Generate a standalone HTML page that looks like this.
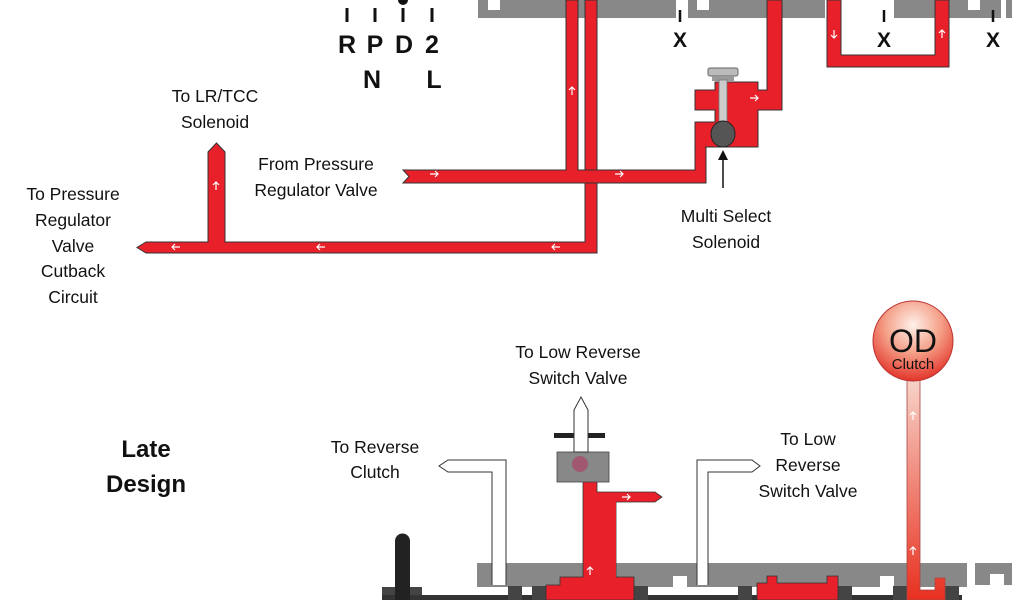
<!DOCTYPE html>
<html><head><meta charset="utf-8"><style>
html,body{margin:0;padding:0;background:#fff;}
svg{display:block}
text{font-family:"Liberation Sans",Arial,sans-serif;fill:#111;}
</style></head><body>
<svg width="1024" height="600" viewBox="0 0 1024 600" xmlns="http://www.w3.org/2000/svg">
<defs>
<radialGradient id="od" cx="50%" cy="30%" r="70%">
<stop offset="0" stop-color="#fdf0ea"/><stop offset="0.5" stop-color="#f5a088"/><stop offset="1" stop-color="#e2352a"/>
</radialGradient>
<linearGradient id="odp" x1="0" y1="0" x2="0" y2="1"><stop offset="0" stop-color="#f7d3c8"/><stop offset="1" stop-color="#e8301f"/></linearGradient>
</defs>
<!-- top gray bars -->
<rect x="478" y="0" width="198" height="18" fill="#888"/>
<rect x="688" y="0" width="137" height="18" fill="#888"/>
<rect x="894" y="0" width="107" height="18" fill="#888"/>
<rect x="488" y="0" width="12" height="10" fill="#fff"/>
<rect x="697" y="0" width="12" height="10" fill="#fff"/>
<rect x="968" y="0" width="12" height="10" fill="#fff"/>
<rect x="1006" y="0" width="6" height="18" fill="#888"/>
<!-- U tube -->
<path d="M827 0 H841 V55 H935 V0 H949 V67 H827 Z" fill="#e8202a" stroke="#333" stroke-width="1"/>
<!-- X marks -->
<g stroke="#111" stroke-width="2.5"><line x1="680" y1="10" x2="680" y2="22"/><line x1="884" y1="10" x2="884" y2="22"/><line x1="993" y1="10" x2="993" y2="22"/></g>
<g font-size="21" font-weight="bold" text-anchor="middle">
<text x="680" y="47">X</text><text x="884" y="47">X</text><text x="993" y="47">X</text></g>
<!-- selector -->
<g stroke="#111" stroke-width="3"><line x1="347" y1="8" x2="347" y2="22"/><line x1="375" y1="8" x2="375" y2="22"/><line x1="403" y1="8" x2="403" y2="22"/><line x1="432" y1="8" x2="432" y2="22"/></g>
<circle cx="403" cy="0" r="5" fill="#111"/>
<g font-size="25" font-weight="bold" text-anchor="middle">
<text x="347" y="53">R</text><text x="375" y="53">P</text><text x="404" y="53">D</text><text x="432" y="53">2</text>
<text x="372" y="88">N</text><text x="434" y="88">L</text></g>
<!-- red lines top -->
<g fill="#e8202a" stroke="#333" stroke-width="1">
<path d="M585 0 H597 V253 H146 L137 247.5 L146 242 H208 V152 L216.5 143 L225 152 V242 H585 Z"/>
<path d="M566 0 H578 V170 H695 V147 H706 V183 H403 L409 176.5 L403 170 H566 Z"/>
<path d="M767 0 H782 V110 H758 V122 H758 V147 H695 V122 H715 V110 H695 V90 H715 V82 H758 V90 H767 Z"/>
</g>
<rect x="696" y="146" width="9" height="3" fill="#e8202a"/>
<!-- solenoid -->
<rect x="708" y="68" width="30" height="8" rx="2" fill="#bbb" stroke="#666"/>
<rect x="712" y="76" width="22" height="5" fill="#999"/>
<rect x="719" y="80" width="8" height="45" fill="#ccc" stroke="#777" stroke-width="0.8"/>
<ellipse cx="723" cy="134" rx="12" ry="13" fill="#555" stroke="#222"/>
<line x1="723" y1="188" x2="723" y2="152" stroke="#111" stroke-width="1.5"/>
<path d="M718 160 L723 150 L728 160 Z" fill="#111"/>
<!-- small arrows -->
<g fill="none" stroke="#fff" stroke-width="1.2">
<path d="M430 174 h8 m-3 -3 l3 3 l-3 3"/><path d="M615 174 h8 m-3 -3 l3 3 l-3 3"/>
<path d="M750 98 h8 m-3 -3 l3 3 l-3 3"/>
<path d="M325 247 h-8 m3 -3 l-3 3 l3 3"/><path d="M560 247 h-8 m3 -3 l-3 3 l3 3"/><path d="M180 247 h-8 m3 -3 l-3 3 l3 3"/>
<path d="M216 190 v-8 m-3 3 l3 -3 l3 3"/><path d="M572 95 v-8 m-3 3 l3 -3 l3 3"/>
<path d="M834 30 v8 m-3 -3 l3 3 l3 -3"/><path d="M942 38 v-8 m-3 3 l3 -3 l3 3"/>
</g>
<g font-size="17.5" text-anchor="middle">
<text x="215" y="102">To LR/TCC</text><text x="215" y="128">Solenoid</text>
<text x="316" y="170">From Pressure</text><text x="316" y="196">Regulator Valve</text>
<text x="73" y="200">To Pressure</text><text x="73" y="226">Regulator</text><text x="73" y="252">Valve</text><text x="73" y="277">Cutback</text><text x="73" y="303">Circuit</text>
<text x="726" y="222">Multi Select</text><text x="726" y="248">Solenoid</text>
<text x="578" y="358">To Low Reverse</text><text x="578" y="384">Switch Valve</text>
<text x="375" y="453">To Reverse</text><text x="375" y="478">Clutch</text>
<text x="808" y="445">To Low</text><text x="808" y="471">Reverse</text><text x="808" y="497">Switch Valve</text>
</g>
<text x="146" y="457" font-size="24" font-weight="bold" text-anchor="middle">Late</text>
<text x="146" y="492" font-size="24" font-weight="bold" text-anchor="middle">Design</text>
<!-- bottom section -->
<rect x="477" y="563" width="490" height="24" fill="#888"/>
<path d="M975 563 H1012 V585 H1004 V574 H990 V585 H975 Z" fill="#888"/>
<rect x="673" y="576" width="14" height="11" fill="#fff"/><rect x="880" y="576" width="14" height="11" fill="#fff"/>
<rect x="382" y="587" width="40" height="13" fill="#444"/>
<rect x="382" y="595" width="580" height="5" fill="#333"/>
<rect x="508" y="586" width="14" height="14" fill="#444"/><rect x="532" y="586" width="14" height="14" fill="#444"/>
<rect x="634" y="586" width="14" height="14" fill="#444"/><rect x="738" y="586" width="14" height="14" fill="#444"/>
<rect x="838" y="586" width="14" height="14" fill="#444"/><rect x="893" y="586" width="14" height="14" fill="#444"/>
<rect x="945" y="586" width="14" height="14" fill="#444"/>
<path d="M395 600 V541 a7.5 7.5 0 0 1 15 0 V600 Z" fill="#222"/>
<!-- white pipes -->
<path d="M506 585 V460 H448 L439 466 L448 472 H492 V585" fill="#fff" stroke="#333" stroke-width="1"/>
<path d="M697 585 V460 H752 L760 466 L752 472 H708 V585" fill="#fff" stroke="#333" stroke-width="1"/>
<!-- red center -->
<g fill="#e8202a" stroke="#333" stroke-width="0.8">
<path d="M546 600 V585 H560 V577 H583 V470 H597 V492 H655 L662 497 L655 502 H616 V577 H634 V600 Z"/>
<path d="M757 600 V583 H767 V576 H777 V583 H827 V576 H838 V600 Z"/>
</g>
<rect x="604" y="502" width="12" height="81" fill="#e8202a"/>
<rect x="557" y="452" width="52" height="30" fill="#888" stroke="#444" stroke-width="0.8"/>
<circle cx="580" cy="464" r="8" fill="#a46" opacity="0.7"/>
<rect x="554" y="433" width="51" height="5" fill="#222"/>
<path d="M574 452 V410 L581 397 L588 410 V452 Z" fill="#fff" stroke="#333" stroke-width="1"/>
<!-- OD -->
<path d="M907 380 V600 H945 V578 H935 V590 H920 V380 Z" fill="url(#odp)" stroke="#a44" stroke-width="0.8"/>
<circle cx="913" cy="341" r="40" fill="url(#od)" stroke="#b33" stroke-width="1"/>
<text x="913" y="352" font-size="32" text-anchor="middle">OD</text>
<text x="913" y="369" font-size="15" text-anchor="middle">Clutch</text>
<g fill="none" stroke="#fff" stroke-width="1.2">
<path d="M590 575 v-8 m-3 3 l3 -3 l3 3"/><path d="M913 420 v-8 m-3 3 l3 -3 l3 3"/><path d="M913 555 v-8 m-3 3 l3 -3 l3 3"/>
<path d="M622 497 h8 m-3 -3 l3 3 l-3 3"/>
</g>
</svg>
</body></html>
